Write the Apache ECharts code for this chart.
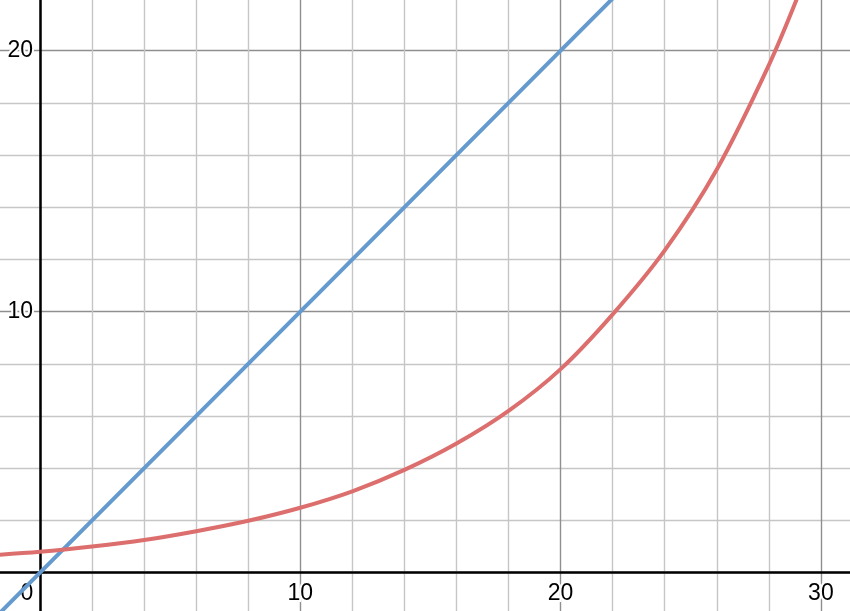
<!DOCTYPE html>
<html>

<head>
    <meta charset="UTF-8">
    <title>graph</title>
    <script src="https://cdn.jsdelivr.net/npm/echarts@6/dist/echarts.min.js"></script>
    <style>
        html, body { margin: 0; padding: 0; background: #fff; }
    </style>
</head>

<body>
    <div id="GraphContainer" style="width: 850px; height: 611px;"></div>

    <script>
        // tick labels shown on the axes
        var xTickLabels = [0, 10, 20, 30];
        var yTickLabels = [10, 20];

        // blue line
        var blueX = [-2, 0, 10, 20, 24];
        var blueY = [-2, 0, 10, 20, 24];

        // red curve, every 2 units
        var redX = [-2, 0, 2, 4, 6, 8, 10, 12, 14, 16, 18, 20, 22, 24, 26, 28, 29.2];
        var redY = [0.66, 0.80, 1.00, 1.25, 1.59, 1.99, 2.49, 3.12, 3.94, 4.95, 6.2, 7.8, 9.9, 12.35, 15.45, 19.45, 22.3];

        function pairs(xs, ys) {
            return xs.map(function (x, i) { return [x, ys[i]]; });
        }

        var myChart = echarts.init(document.getElementById('GraphContainer'));

        // origin sits at pixel (40, 572.7), ~26.05px per unit
        var ux = 26.03, uy = 26.1;
        var ox = 40, oy = 572.7;
        // grid runs from -10 to 40 (x) and -10 to 30 (y), mostly off screen
        var gridLeft = ox - 10 * ux;
        var gridTop = oy - 30 * uy;
        var gridW = 50 * ux;
        var gridH = 40 * uy;

        var labelFont = {
            fontFamily: 'Liberation Sans, Arial, sans-serif',
            fontSize: 23,
            color: '#000',
            textBorderColor: '#fff',
            textBorderWidth: 4
        };

        var option = {
            animation: false,
            backgroundColor: '#fff',
            grid: {
                left: gridLeft,
                top: gridTop,
                width: gridW,
                height: gridH,
                containLabel: false,
                outerBoundsMode: 'none'
            },
            xAxis: {
                type: 'value',
                min: -10,
                max: 40,
                interval: 10,
                position: 'bottom',
                // pull the axis up onto y = 0
                offset: -(gridTop + gridH - oy),
                axisLine: { onZero: false, lineStyle: { color: '#000', width: 2.5 } },
                axisTick: { show: false },
                splitLine: { show: true, lineStyle: { color: '#8f8f8f', width: 1.4 } },
                minorTick: { show: false, splitNumber: 5 },
                minorSplitLine: { show: true, lineStyle: { color: '#c6c6c6', width: 1.4 } },
                axisLabel: Object.assign({
                    margin: 9,
                    showMinLabel: false,
                    showMaxLabel: false,
                    formatter: function (v) {
                        if (xTickLabels.indexOf(v) < 0) return '';
                        if (v === 0) return '{z|0}';
                        return String(v);
                    },
                    rich: {
                        z: Object.assign({ padding: [0, 26, 0, 0] }, labelFont)
                    }
                }, labelFont)
            },
            yAxis: {
                type: 'value',
                min: -10,
                max: 30,
                interval: 10,
                position: 'left',
                // pull the axis right onto x = 0
                offset: -(ox - gridLeft),
                axisLine: { onZero: false, lineStyle: { color: '#000', width: 2.5 } },
                axisTick: { show: false },
                splitLine: { show: true, lineStyle: { color: '#8f8f8f', width: 1.4 } },
                minorTick: { show: false, splitNumber: 5 },
                minorSplitLine: { show: true, lineStyle: { color: '#c6c6c6', width: 1.4 } },
                axisLabel: Object.assign({
                    margin: 7,
                    showMinLabel: false,
                    showMaxLabel: false,
                    formatter: function (v) {
                        return yTickLabels.indexOf(v) < 0 ? '' : String(v);
                    }
                }, labelFont)
            },
            series: [
                {
                    name: 'blue',
                    type: 'line',
                    data: pairs(blueX, blueY),
                    showSymbol: false,
                    lineStyle: { color: '#649ace', width: 4 },
                    z: 3
                },
                {
                    name: 'red',
                    type: 'line',
                    data: pairs(redX, redY),
                    smooth: 0.35,
                    showSymbol: false,
                    lineStyle: { color: '#dc6f6d', width: 4 },
                    z: 4
                }
            ]
        };

        myChart.setOption(option);
    </script>
</body>

</html>
